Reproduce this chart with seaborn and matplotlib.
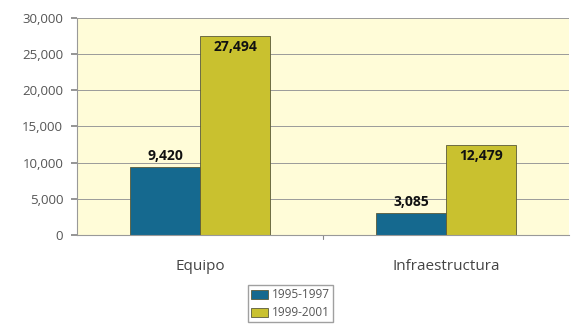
import matplotlib
matplotlib.use("Agg")
import matplotlib.pyplot as plt
import seaborn as sns
import pandas as pd

categories = ["Equipo", "Infraestructura"]
periods = ["1995-1997", "1999-2001"]
values_1995_1997 = [9420, 3085]
values_1999_2001 = [27494, 12479]
y_ticks = [0, 5000, 10000, 15000, 20000, 25000, 30000]

df = pd.DataFrame({
    "categoria": categories * 2,
    "periodo": [periods[0]] * 2 + [periods[1]] * 2,
    "valor": values_1995_1997 + values_1999_2001,
})

sns.set_theme(style="white")
plt.rcParams["font.family"] = ["Open Sans", "DejaVu Sans"]

fig = plt.figure(figsize=(5.71, 3.27), dpi=100)
ax = fig.add_axes([0.135, 0.2813, 0.862, 0.664])
ax.set_facecolor("#FFFCD8")

palette = {periods[0]: "#15698F", periods[1]: "#C9C12F"}
sns.barplot(data=df, x="categoria", y="valor", hue="periodo", order=categories,
            hue_order=periods, palette=palette, width=0.57, saturation=1,
            edgecolor="#5a5a3a", linewidth=0.6, ax=ax, legend=True)

ax.set_ylim(0, 30000)
ax.set_xlim(-0.5, 1.5)
ax.set_yticks(y_ticks)
ax.set_yticklabels([f"{v:,}" for v in y_ticks], color="#555555", fontsize=9.5)
ax.yaxis.grid(True, color="#9a9a9a", linewidth=0.7)
ax.set_axisbelow(True)
ax.set_xlabel("")
ax.set_ylabel("")
ax.set_xticks([0, 1])
ax.set_xticklabels(categories, fontsize=11, color="#444444")
ax.tick_params(axis="x", length=0, pad=17)
ax.tick_params(axis="y", length=4, color="#888888", left=True, pad=6)
for s in ["top", "right"]:
    ax.spines[s].set_visible(False)
ax.spines["left"].set_color("#999999")
ax.spines["bottom"].set_color("#999999")
ax.spines["left"].set_linewidth(0.8)
ax.spines["bottom"].set_linewidth(0.8)
# small tick between the categories on the baseline
ax.plot([0.5, 0.5], [0, -500], color="#888888", lw=0.8, clip_on=False)

# value labels
for i, v in enumerate(values_1995_1997):
    ax.text(i - 0.1425, v + 500, f"{v:,}", ha="center", va="bottom",
            fontsize=10, fontweight="bold", color="#111111")
for i, v in enumerate(values_1999_2001):
    ax.text(i + 0.1425, v - 600, f"{v:,}", ha="center", va="top",
            fontsize=10, fontweight="bold", color="#111111")

handles, labels = ax.get_legend_handles_labels()
ax.legend_.remove()
fig.legend(handles, labels, loc="center", bbox_to_anchor=(0.509, 0.071),
           ncol=1, frameon=True, fontsize=8.5, handlelength=1.4, handleheight=0.8,
           borderpad=0.25, labelspacing=0.4, handletextpad=0.4,
           fancybox=False, edgecolor="#888888", labelcolor="#555555")

fig.savefig("out.png", dpi=100)
